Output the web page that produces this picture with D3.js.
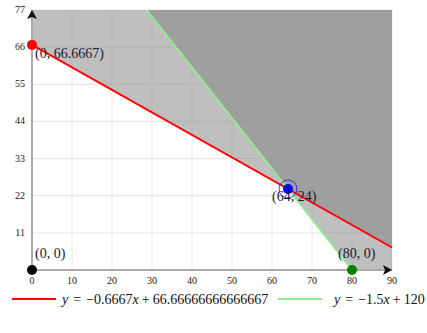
<!DOCTYPE html>
<html>
<head>
<meta charset="utf-8">
<script src="https://cdn.jsdelivr.net/npm/d3@7"></script>
<style>
  body { margin: 0; background: #fff; }
  svg text { font-family: "Liberation Serif", "DejaVu Serif", serif; }
</style>
</head>
<body>
<div id="chart"></div>
<script>

// two constraint lines, their intersection and the axis intercepts
var xTicks = [0, 10, 20, 30, 40, 50, 60, 70, 80, 90];
var yTicks = [11, 22, 33, 44, 55, 66, 77];

var slopes = [-0.6667, -1.5];
var intercepts = [66.66666666666667, 120];
var lineColors = ["#ff0000", "#90ee90"];
var slopeText = ["\u22120.6667", "\u22121.5"];
var interceptText = ["66.66666666666667", "120"];

var pointX = [0, 64, 0, 80];
var pointY = [66.6667, 24, 0, 0];
var pointLabels = ["(0, 66.6667)", "(64, 24)", "(0, 0)", "(80, 0)"];
var pointColors = ["#ff0000", "#0000ff", "#000000", "#008000"];


var margin = {
	left: 32,
	right: 35,
	top: 10,
	bottom: 63
};

var W = 427, H = 333;
var width = W - margin.left - margin.right;
var height = H - margin.top - margin.bottom;

var svg = d3.select("#chart")
	.append("svg")
	.attr("width", W)
	.attr("height", H);

var x = d3.scaleLinear().domain([0, 90]).range([0, width]);
var y = d3.scaleLinear().domain([0, 77]).range([height, 0]);

var g = svg.append("g")
	.attr("transform", "translate(" + margin.left + "," + margin.top + ")");

// grid
g.selectAll(".vgrid")
	.data(xTicks).enter()
	.append("line")
	.attr("x1", function(d){ return x(d) })
	.attr("x2", function(d){ return x(d) })
	.attr("y1", 0).attr("y2", height)
	.attr("stroke", "#e6e6e6").attr("stroke-width", 1);

g.selectAll(".hgrid")
	.data(yTicks).enter()
	.append("line")
	.attr("x1", 0).attr("x2", width)
	.attr("y1", function(d){ return y(d) })
	.attr("y2", function(d){ return y(d) })
	.attr("stroke", "#e6e6e6").attr("stroke-width", 1);

g.append("defs").append("clipPath").attr("id", "clip")
	.append("rect").attr("width", width).attr("height", height);

var f = function(i, xv) { return slopes[i] * xv + intercepts[i]; };

// shaded half planes (above each line)
var area = d3.area()
	.x(function(d){ return x(d[0]) })
	.y0(y(77))
	.y1(function(d){ return y(Math.max(0, d[1])) });

[0, 1].forEach(function(i){
	var xs = [0, 90];
	if (i === 1) xs = [(77 - intercepts[1]) / slopes[1], -intercepts[1] / slopes[1], 90];
	g.append("path")
		.datum(xs.map(function(v){ return [v, f(i, v)] }))
		.attr("clip-path", "url(#clip)")
		.attr("d", area)
		.attr("fill", "#808080")
		.attr("fill-opacity", 0.5);
});

// constraint lines
[0, 1].forEach(function(i){
	var x0 = Math.max(0, (77 - intercepts[i]) / slopes[i]);
	var x1 = Math.min(90, -intercepts[i] / slopes[i]);
	g.append("line")
		.attr("x1", x(x0)).attr("y1", y(f(i, x0)))
		.attr("x2", x(x1)).attr("y2", y(f(i, x1)))
		.attr("stroke", lineColors[i])
		.attr("stroke-width", 2);
});

// axes
g.append("line")
	.attr("x1", 0).attr("x2", width)
	.attr("y1", height).attr("y2", height)
	.attr("stroke", "#aaaaaa").attr("stroke-width", 2);
g.append("line")
	.attr("x1", 0).attr("x2", 0)
	.attr("y1", 0).attr("y2", height)
	.attr("stroke", "#aaaaaa").attr("stroke-width", 2);

g.append("path")
	.attr("d", "M" + (width - 9) + "," + (height - 5) + "L" + width + "," + height + "L" + (width - 9) + "," + (height + 5) + "L" + (width - 7) + "," + height + "Z")
	.attr("fill", "#111");
g.append("path")
	.attr("d", "M-5,9L0,0L5,9L0,7Z")
	.attr("fill", "#111");

g.selectAll(".xlab")
	.data(xTicks).enter()
	.append("text")
	.attr("x", function(d){ return x(d) })
	.attr("y", height + 14)
	.attr("text-anchor", "middle")
	.style("font-size", "10px")
	.attr("fill", "#222")
	.text(function(d){ return d });

g.selectAll(".ylab")
	.data(yTicks).enter()
	.append("text")
	.attr("x", -7)
	.attr("y", function(d){ return y(d) + 3 })
	.attr("text-anchor", "end")
	.style("font-size", "10px")
	.attr("fill", "#222")
	.text(function(d){ return d });

// points
var labelDx = [3, -16, 3, -14];
var labelDy = [13, 12, -12, -12];

g.append("circle")
	.attr("cx", x(pointX[1])).attr("cy", y(pointY[1]))
	.attr("r", 9)
	.attr("fill", "none")
	.attr("stroke", "#0000ff")
	.attr("stroke-opacity", 0.7);

g.selectAll(".pt")
	.data(pointX).enter()
	.append("circle")
	.attr("cx", function(d, i){ return x(pointX[i]) })
	.attr("cy", function(d, i){ return y(pointY[i]) })
	.attr("r", 5)
	.attr("fill", function(d, i){ return pointColors[i] });

g.selectAll(".ptlab")
	.data(pointLabels).enter()
	.append("text")
	.attr("x", function(d, i){ return x(pointX[i]) + labelDx[i] })
	.attr("y", function(d, i){ return y(pointY[i]) + labelDy[i] })
	.style("font-size", "14px")
	.attr("fill", "#1a1a2e")
	.text(function(d){ return d });

// legend
var legX = [12, 278];
var legTextX = [62, 334];
var legend = svg.append("g").attr("transform", "translate(0,299)");
[0, 1].forEach(function(i){
	legend.append("line")
		.attr("x1", legX[i]).attr("x2", legX[i] + 44)
		.attr("y1", 0).attr("y2", 0)
		.attr("stroke", lineColors[i]).attr("stroke-width", 2);
	var t = legend.append("text")
		.attr("x", legTextX[i])
		.attr("y", 5)
		.style("font-size", "14px")
		.attr("fill", "#111");
	t.append("tspan").style("font-style", "italic").text("y");
	t.append("tspan").attr("dx", 5).text("=");
	t.append("tspan").attr("dx", 5).text(slopeText[i]);
	t.append("tspan").style("font-style", "italic").text("x");
	t.append("tspan").attr("dx", 3).text("+");
	t.append("tspan").attr("dx", 3).text(interceptText[i]);
});

</script>
</body>
</html>
